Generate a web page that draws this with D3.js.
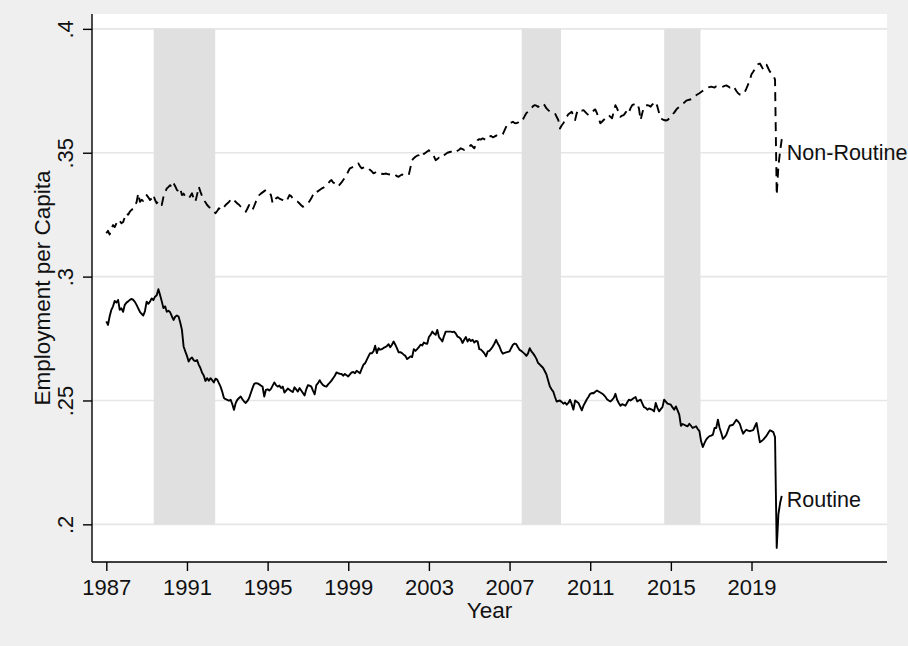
<!DOCTYPE html>
<html>
<head>
<meta charset="utf-8">
<script src="https://cdn.jsdelivr.net/npm/d3@7"></script>
<style>
  body { margin: 0; background: #ffffff; }
  text { font-family: "Liberation Sans", Arial, Helvetica, sans-serif; fill: #111; }
</style>
</head>
<body>
<div id="chart"></div>
<script>

// monthly series, Jan 1987 .. Jul 2020 (one row per year)
var startYear = 1987;

var routine = [
  .2819, .2805, .2840, .2866, .2880, .2902, .2895, .2906, .2866, .2872, .2858, .2886,
  .2895, .2900, .2906, .2910, .2906, .2898, .2886, .2872, .2858, .2850, .2843, .2861,
  .2899, .2890, .2899, .2912, .2905, .2919, .2925, .2949, .2926, .2900, .2873, .2880,
  .2858, .2862, .2856, .2840, .2825, .2838, .2843, .2839, .2815, .2785, .2718, .2698,
  .2680, .2657, .2668, .2673, .2662, .2659, .2663, .2645, .2631, .2612, .2601, .2579,
  .2590, .2580, .2590, .2582, .2573, .2588, .2584, .2570, .2556, .2535, .2510, .2505,
  .2502, .2499, .2503, .2485, .2462, .2490, .2503, .2510, .2516, .2505, .2496, .2490,
  .2498, .2510, .2530, .2550, .2567, .2570, .2569, .2565, .2560, .2556, .2516, .2543,
  .2545, .2540, .2547, .2560, .2573, .2562, .2556, .2560, .2550, .2556, .2532, .2540,
  .2548, .2543, .2538, .2534, .2553, .2545, .2536, .2550, .2540, .2530, .2520, .2545,
  .2562, .2560, .2556, .2540, .2525, .2562, .2570, .2582, .2570, .2562, .2558, .2556,
  .2565, .2572, .2580, .2590, .2600, .2613, .2610, .2608, .2607, .2600, .2607, .2602,
  .2597, .2605, .2613, .2615, .2610, .2620, .2615, .2610, .2628, .2644, .2650, .2664,
  .2678, .2691, .2690, .2698, .2721, .2691, .2711, .2705, .2707, .2712, .2715, .2720,
  .2727, .2715, .2725, .2738, .2725, .2710, .2694, .2695, .2691, .2685, .2680, .2667,
  .2672, .2678, .2675, .2707, .2700, .2707, .2715, .2725, .2722, .2734, .2730, .2729,
  .2756, .2765, .2778, .2770, .2765, .2785, .2756, .2748, .2738, .2760, .2778, .2778,
  .2778, .2778, .2776, .2778, .2770, .2758, .2755, .2748, .2732, .2745, .2756, .2738,
  .2748, .2740, .2745, .2734, .2740, .2738, .2707, .2705, .2698, .2690, .2678, .2698,
  .2700, .2708, .2718, .2730, .2745, .2730, .2718, .2700, .2689, .2692, .2694, .2696,
  .2698, .2712, .2725, .2730, .2727, .2715, .2704, .2700, .2694, .2688, .2680, .2690,
  .2711, .2698, .2690, .2680, .2668, .2651, .2645, .2638, .2631, .2618, .2604, .2580,
  .2556, .2545, .2536, .2515, .2496, .2498, .2500, .2494, .2487, .2492, .2483, .2490,
  .2503, .2485, .2463, .2500, .2495, .2490, .2475, .2460, .2479, .2492, .2505, .2515,
  .2527, .2530, .2529, .2535, .2540, .2536, .2532, .2528, .2523, .2515, .2505, .2500,
  .2496, .2502, .2510, .2527, .2503, .2490, .2479, .2485, .2482, .2479, .2492, .2503,
  .2500, .2505, .2510, .2514, .2496, .2500, .2503, .2488, .2473, .2470, .2463, .2468,
  .2465, .2462, .2456, .2490, .2470, .2456, .2465, .2473, .2503, .2495, .2487, .2485,
  .2483, .2472, .2463, .2476, .2460, .2443, .2398, .2405, .2402, .2398, .2396, .2406,
  .2398, .2389, .2392, .2396, .2385, .2376, .2335, .2312, .2328, .2342, .2350, .2356,
  .2358, .2362, .2389, .2389, .2422, .2390, .2369, .2345, .2352, .2362, .2380, .2398,
  .2400, .2402, .2412, .2422, .2415, .2406, .2385, .2366, .2375, .2382, .2378, .2376,
  .2378, .2380, .2395, .2409, .2370, .2331, .2336, .2342, .2350, .2358, .2370, .2380,
  .2376, .2372, .2352, .1905, .2040, .2085, .2115
];

var nonRoutine = [
  .3175, .3185, .3170, .3195, .3208, .3200, .3215, .3229, .3225, .3215, .3220, .3240,
  .3256, .3250, .3262, .3269, .3275, .3289, .3300, .3336, .3302, .3310, .3305, .3316,
  .3329, .3320, .3309, .3315, .3330, .3309, .3296, .3305, .3300, .3289, .3322, .3340,
  .3356, .3362, .3369, .3360, .3377, .3365, .3350, .3345, .3356, .3329, .3335, .3322,
  .3320, .3316, .3325, .3336, .3315, .3302, .3330, .3363, .3343, .3325, .3309, .3300,
  .3289, .3282, .3276, .3268, .3262, .3256, .3265, .3276, .3272, .3269, .3280, .3289,
  .3295, .3302, .3310, .3316, .3308, .3302, .3295, .3290, .3282, .3275, .3270, .3262,
  .3275, .3289, .3280, .3269, .3285, .3302, .3315, .3329, .3335, .3340, .3345, .3350,
  .3345, .3338, .3329, .3296, .3305, .3316, .3320, .3315, .3312, .3309, .3305, .3302,
  .3315, .3329, .3325, .3315, .3309, .3305, .3302, .3295, .3288, .3282, .3285, .3289,
  .3295, .3305, .3316, .3330, .3343, .3340, .3345, .3350, .3355, .3358, .3363, .3370,
  .3375, .3385, .3390, .3380, .3376, .3370, .3363, .3372, .3380, .3390, .3400, .3410,
  .3425, .3437, .3440, .3443, .3448, .3452, .3457, .3445, .3437, .3440, .3442, .3443,
  .3438, .3430, .3425, .3417, .3420, .3425, .3420, .3418, .3415, .3414, .3416, .3415,
  .3413, .3412, .3415, .3410, .3410, .3405, .3403, .3408, .3412, .3410, .3412, .3410,
  .3410, .3440, .3470, .3478, .3484, .3488, .3490, .3498, .3504, .3495, .3500, .3505,
  .3510, .3500, .3495, .3485, .3470, .3475, .3480, .3477, .3485, .3490, .3495, .3500,
  .3502, .3504, .3505, .3502, .3500, .3508, .3512, .3518, .3515, .3512, .3518, .3522,
  .3525, .3531, .3525, .3518, .3535, .3551, .3555, .3553, .3558, .3555, .3551, .3558,
  .3565, .3568, .3562, .3565, .3570, .3567, .3570, .3572, .3575, .3590, .3605, .3619,
  .3620, .3622, .3625, .3620, .3619, .3622, .3628, .3625, .3635, .3648, .3660, .3665,
  .3672, .3680, .3688, .3692, .3690, .3685, .3690, .3695, .3699, .3690, .3679, .3672,
  .3666, .3665, .3662, .3660, .3645, .3632, .3598, .3610, .3619, .3632, .3645, .3655,
  .3660, .3665, .3650, .3632, .3660, .3675, .3672, .3670, .3672, .3665, .3658, .3652,
  .3658, .3665, .3670, .3675, .3660, .3640, .3619, .3625, .3632, .3640, .3645, .3652,
  .3645, .3639, .3665, .3692, .3679, .3660, .3645, .3650, .3652, .3662, .3672, .3662,
  .3680, .3692, .3695, .3698, .3699, .3679, .3632, .3660, .3686, .3690, .3692, .3690,
  .3686, .3695, .3700, .3706, .3686, .3660, .3639, .3635, .3632, .3630, .3632, .3638,
  .3645, .3655, .3662, .3672, .3680, .3685, .3692, .3698, .3702, .3709, .3712, .3714,
  .3716, .3720, .3729, .3732, .3736, .3740, .3745, .3750, .3756, .3760, .3763, .3765,
  .3767, .3765, .3763, .3768, .3770, .3768, .3765, .3767, .3770, .3772, .3768, .3763,
  .3765, .3770, .3760, .3749, .3740, .3735, .3733, .3738, .3745, .3760, .3776, .3793,
  .3817, .3827, .3838, .3850, .3858, .3860, .3848, .3836, .3845, .3855, .3840, .3827,
  .3820, .3813, .3795, .3330, .3445, .3505, .3555
];

// shaded periods (start, end) in decimal years
var bandStart = [1989.35, 2007.6, 2014.67];
var bandEnd   = [1992.4, 2009.55, 2016.47];

var xTicks = [1987, 1991, 1995, 1999, 2003, 2007, 2011, 2015, 2019];
var yTicks = [.2, .25, .3, .35, .4];
var yTickLabels = [".2", ".25", ".3", ".35", ".4"];

// series labels placed to the right of the lines
var labelText = ["Non-Routine", "Routine"];
var labelX = [2020.75, 2020.75];
var labelY = [.35, .21];

var width = 908, height = 646;
var plot = {left: 92, right: 887, top: 14, bottom: 562};

var svg = d3.select("#chart").append("svg")
    .attr("width", width)
    .attr("height", height);

// outer graph region and white plot region
svg.append("rect")
    .attr("x", 0).attr("y", 0)
    .attr("width", width).attr("height", height)
    .attr("fill", "#efefef");
svg.append("rect")
    .attr("x", plot.left).attr("y", plot.top)
    .attr("width", plot.right - plot.left)
    .attr("height", plot.bottom - plot.top)
    .attr("fill", "#ffffff");

var x = d3.scaleLinear()
    .domain([1986.29, 2025.72])
    .range([plot.left, plot.right]);

var y = d3.scaleLinear()
    .domain([0.1848, 0.406])
    .range([plot.bottom, plot.top]);

// gridlines
svg.selectAll(".grid")
    .data(yTicks)
    .enter().append("line")
    .attr("class", "grid")
    .attr("x1", plot.left).attr("x2", plot.right)
    .attr("y1", d => y(d)).attr("y2", d => y(d))
    .attr("stroke", "#e6e6e6")
    .attr("stroke-width", 1.6);

// shaded bands, from the lowest to the highest gridline
svg.selectAll(".band")
    .data(bandStart)
    .enter().append("rect")
    .attr("class", "band")
    .attr("x", d => x(d))
    .attr("width", (d, i) => x(bandEnd[i]) - x(d))
    .attr("y", y(d3.max(yTicks)))
    .attr("height", y(d3.min(yTicks)) - y(d3.max(yTicks)))
    .attr("fill", "#e0e0e0");

var time = d3.range(routine.length).map(i => startYear + i / 12);

var line = d3.line()
    .x((d, i) => x(time[i]))
    .y(d => y(d));

svg.append("path")
    .datum(routine)
    .attr("d", line)
    .attr("fill", "none")
    .attr("stroke", "#000")
    .attr("stroke-width", 1.9)
    .attr("stroke-linejoin", "round");

svg.append("path")
    .datum(nonRoutine)
    .attr("d", line)
    .attr("fill", "none")
    .attr("stroke", "#000")
    .attr("stroke-width", 1.9)
    .attr("stroke-linejoin", "round")
    .attr("stroke-dasharray", "9,6");

// axes
var xAxis = d3.axisBottom(x)
    .tickValues(xTicks)
    .tickFormat(d3.format("d"))
    .tickSize(9)
    .tickPadding(8);

var gx = svg.append("g")
    .attr("transform", "translate(0," + plot.bottom + ")")
    .call(xAxis);
gx.select(".domain").attr("d", "M" + plot.left + ",0H" + plot.right)
    .attr("stroke", "#000").attr("stroke-width", 1.4);
gx.selectAll(".tick line").attr("stroke", "#000").attr("stroke-width", 1.4);
gx.selectAll(".tick text")
    .style("font-size", "22px")
    .attr("fill", "#111");

var yAxis = d3.axisLeft(y)
    .tickValues(yTicks)
    .tickFormat((d, i) => yTickLabels[i])
    .tickSize(9);

var gy = svg.append("g")
    .attr("transform", "translate(" + plot.left + ",0)")
    .call(yAxis);
gy.select(".domain").attr("d", "M0," + plot.top + "V" + plot.bottom)
    .attr("stroke", "#000").attr("stroke-width", 1.4);
gy.selectAll(".tick line").attr("stroke", "#000").attr("stroke-width", 1.4);
gy.selectAll(".tick text")
    .attr("x", null).attr("dy", null)
    .attr("text-anchor", "middle")
    .attr("transform", "translate(-19,0) rotate(-90)")
    .style("font-size", "22px")
    .attr("fill", "#111");

// axis titles
svg.append("text")
    .attr("transform", "translate(50," + ((plot.top + plot.bottom) / 2) + ") rotate(-90)")
    .attr("text-anchor", "middle")
    .style("font-size", "22.5px")
    .text("Employment per Capita");

svg.append("text")
    .attr("x", (plot.left + plot.right) / 2)
    .attr("y", 618)
    .attr("text-anchor", "middle")
    .style("font-size", "22.5px")
    .text("Year");

// series labels
svg.selectAll(".serieslabel")
    .data(labelText)
    .enter().append("text")
    .attr("class", "serieslabel")
    .attr("x", (d, i) => x(labelX[i]))
    .attr("y", (d, i) => y(labelY[i]))
    .attr("dy", "0.35em")
    .style("font-size", "21.5px")
    .text(d => d);

</script>
</body>
</html>
